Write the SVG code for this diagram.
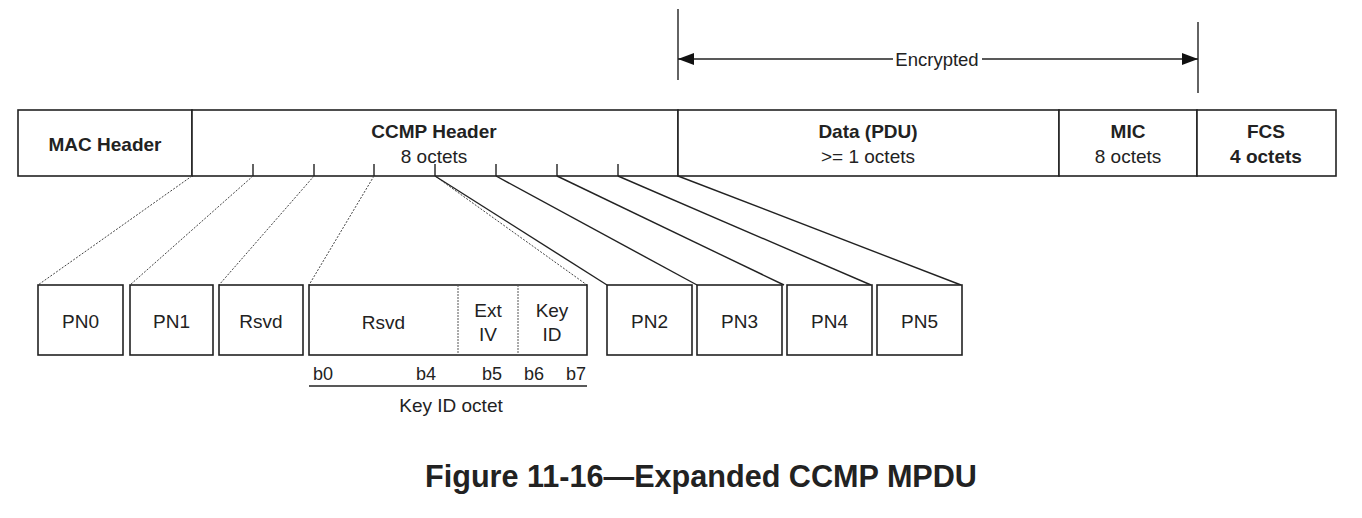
<svg xmlns="http://www.w3.org/2000/svg" width="1362" height="518" viewBox="0 0 1362 518">
<defs>
<style>
.box{fill:#fff;stroke:#222;stroke-width:1.6}
.t{font-family:"Liberation Sans",Arial,sans-serif;font-size:19px;fill:#222;text-anchor:middle}
.b{font-weight:bold}
.s{font-size:18px}
.ln{stroke:#222;stroke-width:1.4;fill:none}
.dot{stroke:#444;stroke-width:1;stroke-dasharray:2 1.5;fill:none}
.div{stroke:#555;stroke-width:1;stroke-dasharray:2 1;fill:none}
</style>
<marker id="ah" viewBox="0 0 16 12" refX="16" refY="6" markerWidth="16" markerHeight="12" markerUnits="userSpaceOnUse" orient="auto-start-reverse">
<path d="M0,0 L16,6 L0,12 Z" fill="#111"/>
</marker>
</defs>
<rect width="1362" height="518" fill="#fff"/>

<g id="encrypted">
<line class="ln" x1="678" y1="9" x2="678" y2="80"/>
<line class="ln" x1="1198" y1="22" x2="1198" y2="93"/>
<line class="ln" x1="678" y1="59" x2="893" y2="59" marker-start="url(#ah)"/>
<line class="ln" x1="982" y1="59" x2="1198" y2="59" marker-end="url(#ah)"/>
<text class="t" x="937" y="66" style="font-size:18.5px">Encrypted</text>
</g>

<g id="mac-header">
<rect class="box" x="18" y="110" width="174" height="66"/>
<text class="t b" x="105" y="151">MAC Header</text>
</g>
<g id="ccmp-header">
<rect class="box" x="192" y="110" width="486" height="66"/>
<text class="t b" x="434" y="138">CCMP Header</text>
<text class="t" x="434" y="163">8 octets</text>
<path class="ln" d="M253,164V176M314,164V176M374,164V176M435,164V176M496,164V176M557,164V176M618,164V176"/>
</g>
<g id="data-pdu">
<rect class="box" x="678" y="110" width="381" height="66"/>
<text class="t b" x="868" y="138">Data (PDU)</text>
<text class="t" x="868" y="163">&gt;= 1 octets</text>
</g>
<g id="mic">
<rect class="box" x="1059" y="110" width="138" height="66"/>
<text class="t b" x="1128" y="138">MIC</text>
<text class="t" x="1128" y="163">8 octets</text>
</g>
<g id="fcs">
<rect class="box" x="1197" y="110" width="139" height="66"/>
<text class="t b" x="1266" y="138">FCS</text>
<text class="t b" x="1266" y="163">4 octets</text>
</g>

<g id="connectors">
<line class="dot" x1="192" y1="176" x2="38" y2="285"/>
<line class="dot" x1="253" y1="176" x2="130" y2="285"/>
<line class="dot" x1="314" y1="176" x2="219" y2="285"/>
<line class="dot" x1="374" y1="176" x2="309" y2="285"/>
<line class="dot" x1="435" y1="176" x2="587" y2="285"/>
<line class="ln" x1="435" y1="176" x2="607" y2="285"/>
<line class="ln" x1="496" y1="176" x2="697" y2="285"/>
<line class="ln" x1="557" y1="176" x2="784" y2="285"/>
<line class="ln" x1="618" y1="176" x2="871" y2="285"/>
<line class="ln" x1="678" y1="176" x2="961" y2="285"/>
</g>

<g id="pn0"><rect class="box" x="38" y="285" width="85" height="70"/><text class="t" x="80.5" y="328">PN0</text></g>
<g id="pn1"><rect class="box" x="130" y="285" width="83" height="70"/><text class="t" x="171.5" y="328">PN1</text></g>
<g id="rsvd"><rect class="box" x="219" y="285" width="84" height="70"/><text class="t" x="261" y="328">Rsvd</text></g>

<g id="key-id-octet">
<rect class="box" x="309" y="285" width="278" height="70"/>
<line class="div" x1="458" y1="285" x2="458" y2="355"/>
<line class="div" x1="518" y1="285" x2="518" y2="355"/>
<text class="t" x="383.5" y="329">Rsvd</text>
<text class="t" x="488" y="317">Ext</text>
<text class="t" x="488" y="341">IV</text>
<text class="t" x="552" y="317">Key</text>
<text class="t" x="552" y="341">ID</text>
<text class="t s" x="313" y="380" style="text-anchor:start">b0</text>
<text class="t s" x="436" y="380" style="text-anchor:end">b4</text>
<text class="t s" x="492" y="380">b5</text>
<text class="t s" x="534" y="380">b6</text>
<text class="t s" x="586" y="380" style="text-anchor:end">b7</text>
<line class="ln" x1="309" y1="386" x2="587" y2="386"/>
<text class="t" x="451" y="412">Key ID octet</text>
</g>

<g id="pn2"><rect class="box" x="607" y="285" width="85" height="70"/><text class="t" x="649.5" y="328">PN2</text></g>
<g id="pn3"><rect class="box" x="697" y="285" width="85" height="70"/><text class="t" x="739.5" y="328">PN3</text></g>
<g id="pn4"><rect class="box" x="787" y="285" width="85" height="70"/><text class="t" x="829.5" y="328">PN4</text></g>
<g id="pn5"><rect class="box" x="877" y="285" width="85" height="70"/><text class="t" x="919.5" y="328">PN5</text></g>

<text class="t b" x="701" y="487" style="font-size:30.6px">Figure 11-16—Expanded CCMP MPDU</text>
</svg>
